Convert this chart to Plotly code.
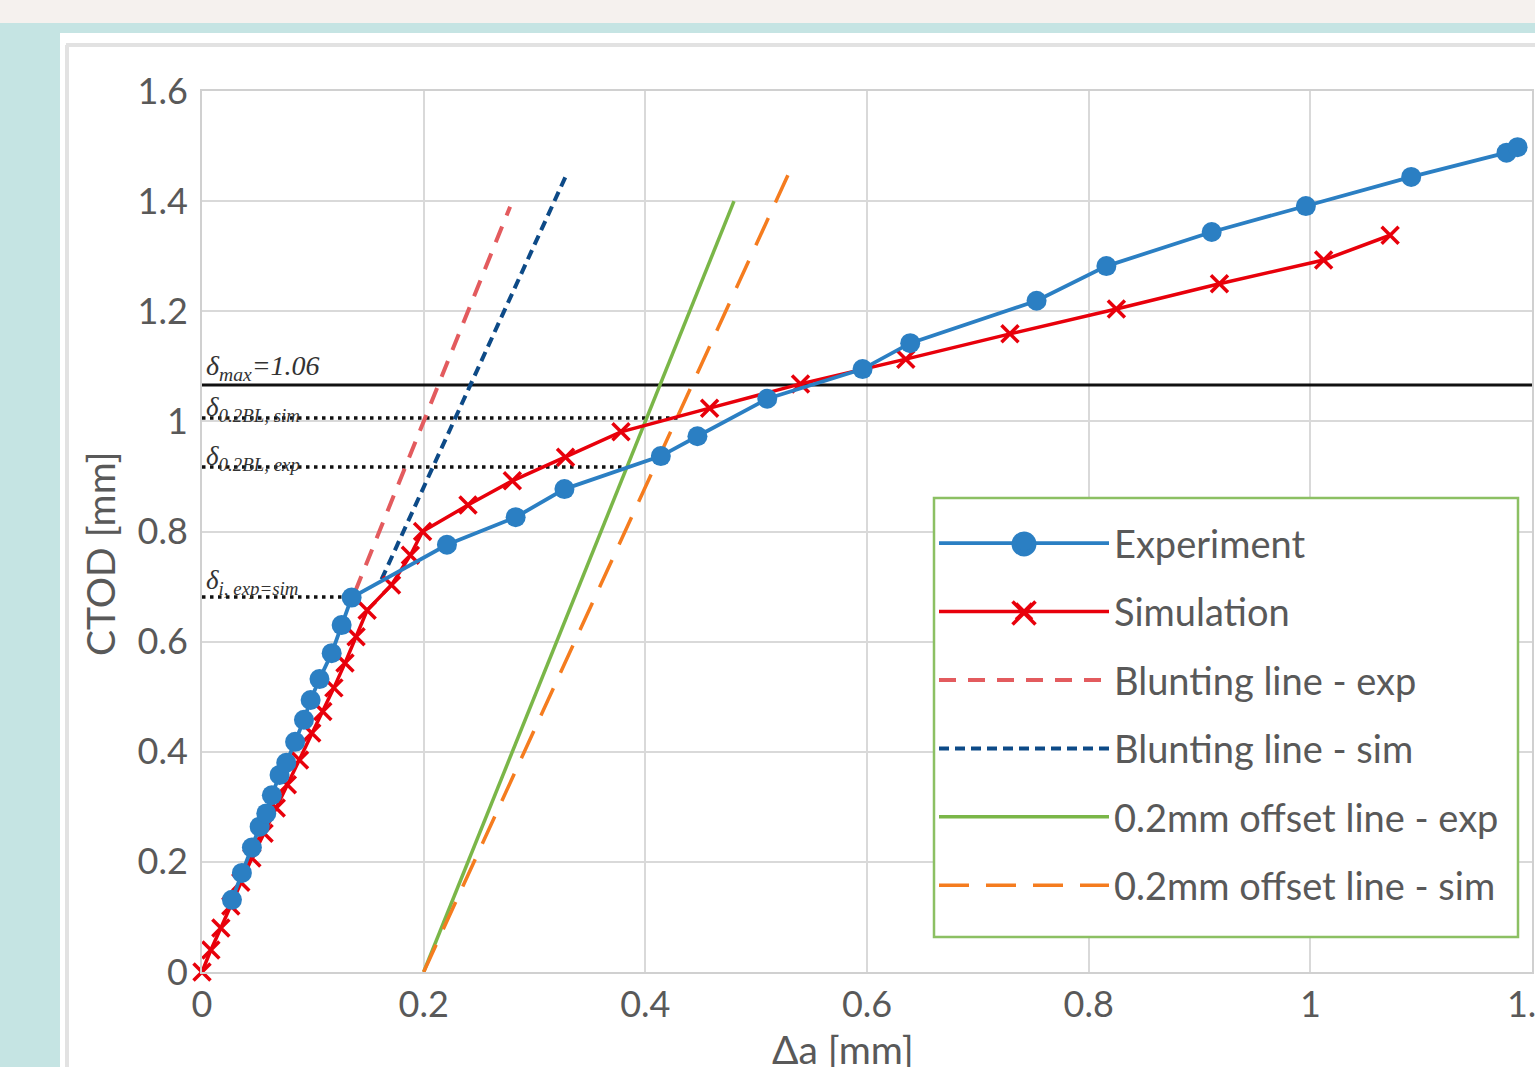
import plotly.graph_objects as go

# ---------------- data ----------------
exp_x = [0.027, 0.036, 0.045, 0.052, 0.058, 0.063, 0.070, 0.076, 0.084, 0.092,
         0.098, 0.106, 0.117, 0.126, 0.135, 0.221, 0.283, 0.327, 0.414, 0.447,
         0.510, 0.596, 0.639, 0.753, 0.816, 0.911, 0.996, 1.091, 1.177, 1.187]
exp_y = [0.131, 0.180, 0.226, 0.264, 0.288, 0.321, 0.358, 0.380, 0.418, 0.458,
         0.494, 0.532, 0.579, 0.630, 0.680, 0.776, 0.826, 0.877, 0.937, 0.973,
         1.041, 1.095, 1.142, 1.219, 1.282, 1.344, 1.391, 1.444, 1.488, 1.498]

sim_x = [0.000, 0.008, 0.017, 0.026, 0.035, 0.045, 0.056, 0.067, 0.077, 0.088,
         0.099, 0.109, 0.119, 0.129, 0.139, 0.149, 0.171, 0.188, 0.199, 0.240,
         0.280, 0.328, 0.378, 0.458, 0.540, 0.635, 0.729, 0.825, 0.918, 1.012, 1.072]
sim_y = [0.000, 0.040, 0.080, 0.120, 0.163, 0.207, 0.252, 0.298, 0.340, 0.385,
         0.434, 0.473, 0.516, 0.561, 0.609, 0.657, 0.703, 0.757, 0.800, 0.848,
         0.892, 0.935, 0.981, 1.024, 1.068, 1.113, 1.159, 1.204, 1.250, 1.293, 1.338]

blunt_exp_x = [0.138, 0.278]
blunt_exp_y = [0.690, 1.390]
blunt_sim_x = [0.162, 0.330]
blunt_sim_y = [0.713, 1.453]
offset_exp_x = [0.200, 0.480]
offset_exp_y = [0.000, 1.400]
offset_sim_x = [0.200, 0.530]
offset_sim_y = [0.000, 1.453]

dmax_x = [0.0, 1.2]
dmax_y = [1.066, 1.066]
d02sim_x = [0.0, 0.429]
d02sim_y = [1.006, 1.006]
d02exp_x = [0.0, 0.383]
d02exp_y = [0.917, 0.917]
di_x = [0.0, 0.135]
di_y = [0.681, 0.681]

x_ticks = [0, 0.2, 0.4, 0.6, 0.8, 1.0, 1.2]
x_tick_text = ["0", "0.2", "0.4", "0.6", "0.8", "1", "1.2"]
y_ticks = [0, 0.2, 0.4, 0.6, 0.8, 1.0, 1.2, 1.4, 1.6]
y_tick_text = ["0", "0.2", "0.4", "0.6", "0.8", "1", "1.2", "1.4", "1.6"]

legend_names = ["Experiment", "Simulation", "Blunting line - exp", "Blunting line - sim",
                "0.2mm offset line - exp", "0.2mm offset line - sim"]

# ---------------- layout geometry (pixels) ----------------
W, H = 1535, 1067
L, R, T, B = 202, 1532, 91, 972


def px(xp):
    return (xp - L) / (R - L)


def py(yp):
    return (B - yp) / (B - T)


FONT = "Lato"
GREY = "#595959"
BLUE = "#2b7fc3"
RED = "#e8000b"

fig = go.Figure()

# reference lines (no legend)
fig.add_trace(go.Scatter(x=dmax_x, y=dmax_y, mode="lines", showlegend=False,
                         line=dict(color="#111111", width=3), hoverinfo="skip"))
for hx, hy in [(d02sim_x, d02sim_y), (d02exp_x, d02exp_y), (di_x, di_y)]:
    fig.add_trace(go.Scatter(x=hx, y=hy, mode="lines", showlegend=False,
                             line=dict(color="#111111", width=3.5, dash="3.5px,4.5px"),
                             hoverinfo="skip"))

fig.add_trace(go.Scatter(x=blunt_exp_x, y=blunt_exp_y, mode="lines", name=legend_names[2],
                         legendgroup="g3", legendrank=3,
                         line=dict(color="#e35b5e", width=4, dash="17px,12px")))
fig.add_trace(go.Scatter(x=blunt_sim_x, y=blunt_sim_y, mode="lines", name=legend_names[3],
                         legendgroup="g4", legendrank=4,
                         line=dict(color="#0d4a87", width=4, dash="10px,6px")))
fig.add_trace(go.Scatter(x=offset_exp_x, y=offset_exp_y, mode="lines", name=legend_names[4],
                         legendgroup="g5", legendrank=5,
                         line=dict(color="#7ab648", width=3.5)))
fig.add_trace(go.Scatter(x=offset_sim_x, y=offset_sim_y, mode="lines", name=legend_names[5],
                         legendgroup="g6", legendrank=6,
                         line=dict(color="#f57c1f", width=3.5, dash="30px,17px")))

fig.add_trace(go.Scatter(x=sim_x, y=sim_y, mode="lines+markers", name=legend_names[1],
                         legendgroup="g2", legendrank=2, cliponaxis=False,
                         line=dict(color=RED, width=3.5),
                         marker=dict(symbol="x-thin", size=17,
                                     line=dict(color=RED, width=3.5))))
fig.add_trace(go.Scatter(x=exp_x, y=exp_y, mode="lines+markers", name=legend_names[0],
                         legendgroup="g1", legendrank=1, cliponaxis=False,
                         line=dict(color=BLUE, width=3.8),
                         marker=dict(symbol="circle", size=20, color=BLUE)))

# ---------------- annotations ----------------
ann = []
lab_font = dict(family="Liberation Serif", size=28, color="#333333")
ann.append(dict(x=0.002, y=1.066, xref="x", yref="y", xanchor="left", yanchor="bottom",
                text="<i>δ<sub>max</sub>=1.06</i>", showarrow=False, font=lab_font, yshift=-2))
small_font = dict(family="Liberation Serif", size=27, color="#333333")
ann.append(dict(x=0.002, y=1.006, xref="x", yref="y", xanchor="left", yanchor="bottom",
                text="<i>δ<sub>0.2BL, sim</sub></i>", showarrow=False, font=small_font, yshift=-10))
ann.append(dict(x=0.002, y=0.917, xref="x", yref="y", xanchor="left", yanchor="bottom",
                text="<i>δ<sub>0.2BL, exp</sub></i>", showarrow=False, font=small_font, yshift=-10))
ann.append(dict(x=0.002, y=0.681, xref="x", yref="y", xanchor="left", yanchor="bottom",
                text="<i>δ<sub>i, exp=sim</sub></i>", showarrow=False, font=small_font, yshift=-4))
# axis titles
ann.append(dict(x=px(100), y=py(554), xref="paper", yref="paper", xanchor="center",
                yanchor="middle", text="CTOD [mm]", textangle=-90, showarrow=False,
                font=dict(family=FONT, size=39, color=GREY)))
ann.append(dict(x=px(843), y=py(1049), xref="paper", yref="paper", xanchor="center",
                yanchor="middle", text="Δa [mm]", showarrow=False,
                font=dict(family=FONT, size=39, color=GREY)))

# ---------------- frame shapes ----------------
shapes = [
    dict(type="rect", xref="paper", yref="paper", x0=px(0), x1=px(W), y0=py(0), y1=py(23),
         fillcolor="#f5f1ee", line=dict(width=0), layer="below"),
    dict(type="rect", xref="paper", yref="paper", x0=px(0), x1=px(W), y0=py(23), y1=py(33),
         fillcolor="#c5e4e3", line=dict(width=0), layer="below"),
    dict(type="rect", xref="paper", yref="paper", x0=px(0), x1=px(60), y0=py(23), y1=py(H),
         fillcolor="#c5e4e3", line=dict(width=0), layer="below"),
    dict(type="line", xref="paper", yref="paper", x0=px(66), x1=px(W), y0=py(45), y1=py(45),
         line=dict(color="#e2e2e2", width=4), layer="below"),
    dict(type="line", xref="paper", yref="paper", x0=px(67), x1=px(67), y0=py(45), y1=py(H),
         line=dict(color="#e2e2e2", width=4), layer="below"),
    # legend box
    dict(type="rect", xref="paper", yref="paper", x0=px(934), x1=px(1518), y0=py(498), y1=py(937),
         fillcolor="white", line=dict(color="#8cc063", width=2.5), layer="above"),
]
# enlarged legend symbols (drawn under the legend's own symbols)
DOT_CX, DOT_CY, DOT_R = 1024, 544, 12.5
shapes.append(dict(type="circle", xref="paper", yref="paper",
                   x0=px(DOT_CX - DOT_R), x1=px(DOT_CX + DOT_R),
                   y0=py(DOT_CY + DOT_R), y1=py(DOT_CY - DOT_R),
                   fillcolor=BLUE, line=dict(width=0), layer="above"))
X_CX, X_CY, X_H = 1024, 613, 11.5
for sgn in (1, -1):
    shapes.append(dict(type="line", xref="paper", yref="paper",
                       x0=px(X_CX - X_H), x1=px(X_CX + X_H),
                       y0=py(X_CY - sgn * X_H), y1=py(X_CY + sgn * X_H),
                       line=dict(color=RED, width=3.5), layer="above"))

fig.update_layout(
    width=W, height=H, autosize=False,
    margin=dict(l=L, r=W - R, t=T, b=H - B, pad=0),
    paper_bgcolor="white", plot_bgcolor="white",
    font=dict(family=FONT, color=GREY),
    showlegend=True,
    legend=dict(x=px(934), y=py(512), xanchor="left", yanchor="top",
                bgcolor="rgba(0,0,0,0)", borderwidth=0,
                font=dict(family=FONT, size=38, color=GREY),
                itemwidth=170, tracegroupgap=16, traceorder="grouped",
                itemsizing="trace"),
    annotations=ann,
    shapes=shapes,
)
fig.update_xaxes(range=[0, 1.2], tickvals=x_ticks, ticktext=x_tick_text,
                 showgrid=True, gridcolor="#d9d9d9", gridwidth=1.5,
                 showline=True, linecolor="#d0d0d0", linewidth=2, mirror=True,
                 zeroline=False, ticks="", ticklabelstandoff=0, automargin=False,
                 ticklabeloverflow="allow",
                 tickfont=dict(family=FONT, size=36, color=GREY))
fig.update_yaxes(range=[0, 1.6], tickvals=y_ticks, ticktext=y_tick_text,
                 showgrid=True, gridcolor="#d9d9d9", gridwidth=1.5,
                 showline=True, linecolor="#d0d0d0", linewidth=2, mirror=True,
                 zeroline=False, ticks="", ticklabelstandoff=5, automargin=False,
                 ticklabeloverflow="allow",
                 tickfont=dict(family=FONT, size=36, color=GREY))

fig.write_html("out.html", config={"displayModeBar": False},
               post_script="document.body.style.margin='0px';")
